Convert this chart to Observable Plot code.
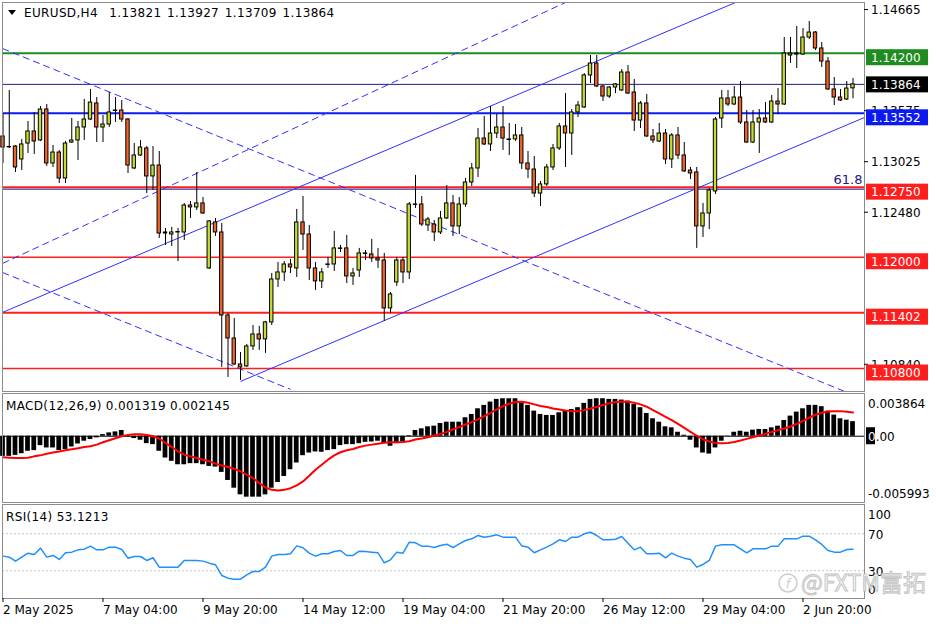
<!DOCTYPE html>
<html><head><meta charset="utf-8">
<script src="https://cdn.jsdelivr.net/npm/d3@7"></script>
<script src="https://cdn.jsdelivr.net/npm/@observablehq/plot@0.6"></script>
<style>
body{margin:0;background:#fff;}
#chart{position:relative;width:936px;height:624px;overflow:hidden;background:#fff;font-family:"DejaVu Sans",sans-serif;}
#chart svg{position:absolute;left:0;overflow:visible;}
</style></head><body><div id="chart"></div>
<script>
// ---------- DATA ----------
const symbol = "EURUSD,H4";
const opens = [1.13302,1.13189,1.13194,1.13054,1.13226,1.13356,1.13259,1.13593,1.13011,1.13129,
1.12849,1.13237,1.13259,1.13399,1.13485,1.13658,1.13399,1.13431,1.13577,1.13582,
1.13485,1.12957,1.13097,1.13173,1.12871,1.12989,1.12267,1.12245,1.12267,1.12267,
1.12558,1.12537,1.12580,1.11879,1.12375,1.12267,1.11372,1.11124,1.10844,1.10823,
1.11038,1.11167,1.11114,1.11297,1.11760,1.11836,1.11922,1.11879,1.12375,1.12245,
1.11879,1.11739,1.11917,1.11922,1.12095,1.12095,1.11793,1.11857,1.12035,1.12030,
1.11987,1.11965,1.11448,1.11728,1.11965,1.11836,1.12569,1.12569,1.12343,1.12353,
1.12267,1.12418,1.12580,1.12332,1.12569,1.12806,1.12957,1.13280,1.13216,1.13334,
1.13399,1.13270,1.13270,1.13313,1.13011,1.12946,1.12687,1.12785,1.12968,1.13173,
1.13410,1.13334,1.13561,1.13615,1.13960,1.14089,1.13841,1.13733,1.13830,1.13798,
1.13992,1.13776,1.13474,1.13658,1.13302,1.13248,1.13334,1.13054,1.13313,1.13097,
1.12935,1.12914,1.12332,1.12472,1.12709,1.13496,1.13712,1.13647,1.13722,1.13453,
1.13237,1.13453,1.13496,1.13453,1.13679,1.13647,1.14197,1.14197,1.14186,1.14369,
1.14423,1.14251,1.14110,1.13809,1.13722,1.13701,1.13821];
const highs = [1.13550,1.13798,1.13205,1.13270,1.13464,1.13561,1.13625,1.13647,1.13205,1.13151,
1.13248,1.13496,1.13464,1.13701,1.13809,1.13722,1.13528,1.13776,1.13722,1.13690,
1.13496,1.13226,1.13259,1.13194,1.13194,1.13140,1.12310,1.12321,1.12310,1.12580,
1.12601,1.12914,1.12644,1.12396,1.12418,1.12364,1.11394,1.11340,1.10973,1.11060,
1.11264,1.11254,1.11308,1.11825,1.11944,1.11954,1.11976,1.12515,1.12655,1.12343,
1.11944,1.11879,1.11998,1.12278,1.12127,1.12235,1.11879,1.12095,1.12073,1.12192,
1.12095,1.12041,1.11620,1.11998,1.11998,1.12590,1.12882,1.12655,1.12429,1.12396,
1.12493,1.12774,1.12666,1.12644,1.12849,1.13011,1.13388,1.13518,1.13625,1.13539,
1.13625,1.13442,1.13431,1.13399,1.13140,1.13086,1.12817,1.13000,1.13216,1.13442,
1.13765,1.13593,1.13679,1.13981,1.14175,1.14175,1.13852,1.13841,1.13873,1.14024,
1.14067,1.13916,1.13679,1.13755,1.13377,1.13442,1.13377,1.13334,1.13399,1.13237,
1.12968,1.12968,1.12580,1.12741,1.13507,1.13798,1.13798,1.13841,1.13895,1.13582,
1.13582,1.13593,1.13668,1.13744,1.13819,1.14369,1.14369,1.14488,1.14466,1.14542,
1.14434,1.14315,1.14154,1.13938,1.13809,1.13895,1.13927];
const lows = [1.13011,1.13173,1.12914,1.12935,1.13119,1.13108,1.13248,1.12979,1.12968,1.12795,
1.12795,1.13226,1.13043,1.13259,1.13474,1.13237,1.13237,1.13399,1.13453,1.13453,
1.12903,1.12946,1.13086,1.12687,1.12720,1.12202,1.12127,1.12116,1.11954,1.12181,
1.12418,1.12504,1.12461,1.11868,1.12224,1.10812,1.10704,1.10833,1.10672,1.10812,
1.10995,1.10995,1.10963,1.11264,1.11674,1.11739,1.11825,1.11782,1.12073,1.11750,
1.11642,1.11663,1.11879,1.11847,1.12051,1.11717,1.11696,1.11782,1.11965,1.11944,
1.11879,1.11308,1.11394,1.11685,1.11717,1.11760,1.12526,1.12332,1.12278,1.12170,
1.12245,1.12407,1.12224,1.12245,1.12537,1.12763,1.12860,1.13205,1.13140,1.13280,
1.13151,1.13097,1.13248,1.12946,1.12849,1.12644,1.12547,1.12763,1.12935,1.13151,
1.12968,1.13097,1.13507,1.13604,1.13873,1.13830,1.13679,1.13712,1.13765,1.13787,
1.13755,1.13356,1.13388,1.13291,1.13226,1.13237,1.13000,1.12957,1.13054,1.12914,
1.12838,1.12095,1.12213,1.12299,1.12677,1.13388,1.13625,1.13636,1.13431,1.13226,
1.13226,1.13119,1.13442,1.13442,1.13539,1.13636,1.14089,1.14035,1.14175,1.14348,
1.14229,1.14046,1.13798,1.13636,1.13679,1.13690,1.13709];
const closes = [1.13183,1.13185,1.12968,1.13216,1.13356,1.13248,1.13593,1.13011,1.13129,1.12849,
1.13226,1.13259,1.13399,1.13485,1.13668,1.13399,1.13431,1.13561,1.13582,1.13485,
1.12989,1.13097,1.13183,1.12871,1.12989,1.12256,1.12256,1.12267,1.12272,1.12558,
1.12537,1.12580,1.12472,1.12386,1.12267,1.11372,1.11124,1.10844,1.10812,1.11038,
1.11167,1.11114,1.11297,1.11760,1.11836,1.11922,1.11890,1.12375,1.12245,1.11879,
1.11739,1.11836,1.11922,1.12095,1.12090,1.11793,1.11825,1.12041,1.12041,1.11987,
1.11965,1.11448,1.11599,1.11965,1.11836,1.12569,1.12564,1.12353,1.12407,1.12267,
1.12418,1.12580,1.12332,1.12569,1.12806,1.12957,1.13280,1.13216,1.13334,1.13399,
1.13280,1.13264,1.13313,1.13011,1.12946,1.12687,1.12785,1.12968,1.13173,1.13410,
1.13334,1.13561,1.13636,1.13960,1.14089,1.13841,1.13733,1.13830,1.13863,1.13992,
1.13765,1.13474,1.13658,1.13302,1.13259,1.13334,1.13054,1.13313,1.13097,1.12925,
1.12903,1.12332,1.12472,1.12720,1.13485,1.13712,1.13647,1.13722,1.13453,1.13237,
1.13453,1.13496,1.13453,1.13679,1.13647,1.14197,1.14175,1.14186,1.14369,1.14423,
1.14251,1.14110,1.13809,1.13722,1.13690,1.13819,1.13864];

const macdMain = [-0.00182,-0.00182,-0.00173,-0.00158,-0.00136,-0.00130,-0.00085,-0.00106,-0.00106,-0.00130,
-0.00121,-0.00097,-0.00070,-0.00045,-0.00030,-0.00015,0.00015,0.00030,0.00039,0.00052,
-0.00006,-0.00021,-0.00036,-0.00067,-0.00076,-0.00136,-0.00197,-0.00227,-0.00258,-0.00258,
-0.00248,-0.00248,-0.00258,-0.00273,-0.00279,-0.00327,-0.00400,-0.00470,-0.00530,-0.00551,
-0.00551,-0.00551,-0.00530,-0.00470,-0.00418,-0.00364,-0.00303,-0.00242,-0.00176,-0.00152,
-0.00142,-0.00145,-0.00130,-0.00121,-0.00085,-0.00076,-0.00076,-0.00067,-0.00055,-0.00052,
-0.00045,-0.00067,-0.00091,-0.00067,-0.00052,0.00006,0.00052,0.00067,0.00085,0.00091,
0.00115,0.00127,0.00127,0.00127,0.00167,0.00197,0.00248,0.00279,0.00309,0.00333,
0.00339,0.00339,0.00339,0.00309,0.00279,0.00227,0.00197,0.00188,0.00188,0.00212,
0.00227,0.00242,0.00258,0.00297,0.00333,0.00339,0.00339,0.00333,0.00333,0.00327,
0.00318,0.00288,0.00258,0.00206,0.00158,0.00127,0.00085,0.00076,0.00036,0.00009,
-0.00036,-0.00106,-0.00152,-0.00161,-0.00106,-0.00045,0.00003,0.00036,0.00045,0.00036,
0.00055,0.00061,0.00061,0.00076,0.00091,0.00142,0.00182,0.00218,0.00248,0.00279,
0.00279,0.00267,0.00227,0.00191,0.00158,0.00145,0.001319];
const macdSignal = [-0.00191,-0.00194,-0.00197,-0.00197,-0.00194,-0.00182,-0.00173,-0.00158,-0.00148,-0.00139,
-0.00127,-0.00118,-0.00109,-0.00097,-0.00091,-0.00076,-0.00055,-0.00036,-0.00018,0.00000,
0.00012,0.00018,0.00018,0.00012,0.00000,-0.00021,-0.00061,-0.00097,-0.00136,-0.00167,
-0.00182,-0.00197,-0.00212,-0.00227,-0.00248,-0.00264,-0.00279,-0.00294,-0.00318,-0.00348,
-0.00379,-0.00424,-0.00464,-0.00485,-0.00491,-0.00485,-0.00470,-0.00445,-0.00409,-0.00358,
-0.00303,-0.00258,-0.00212,-0.00173,-0.00145,-0.00127,-0.00115,-0.00097,-0.00085,-0.00076,
-0.00067,-0.00058,-0.00055,-0.00055,-0.00052,-0.00045,-0.00030,-0.00021,-0.00009,0.00006,
0.00021,0.00039,0.00061,0.00082,0.00106,0.00127,0.00152,0.00182,0.00212,0.00242,
0.00273,0.00294,0.00309,0.00312,0.00303,0.00288,0.00273,0.00264,0.00251,0.00242,
0.00233,0.00227,0.00227,0.00236,0.00251,0.00267,0.00282,0.00297,0.00309,0.00312,
0.00312,0.00303,0.00288,0.00267,0.00236,0.00206,0.00176,0.00145,0.00112,0.00076,
0.00039,0.00003,-0.00027,-0.00048,-0.00061,-0.00064,-0.00061,-0.00052,-0.00039,-0.00024,
-0.00009,0.00006,0.00021,0.00039,0.00055,0.00070,0.00088,0.00112,0.00139,0.00167,
0.00194,0.00212,0.00224,0.00227,0.00227,0.00221,0.002145];
const rsi = [45.8,44.7,40.4,44.7,49.0,47.6,54.4,44.7,46.5,42.2,
49.4,50.1,52.6,53.3,56.6,52.6,52.6,55.5,55.5,53.0,
43.6,45.4,45.4,41.1,44.0,33.9,33.9,33.9,33.9,41.1,
41.1,41.1,40.4,38.2,36.4,24.9,22.0,20.9,20.9,25.6,
29.2,29.2,33.9,45.8,47.6,47.6,48.3,56.9,54.8,49.0,
45.8,48.3,48.3,50.8,51.9,46.5,46.5,51.2,50.8,50.1,
49.4,38.6,41.8,50.1,49.0,60.9,60.2,56.6,56.6,55.1,
57.3,58.7,55.1,59.1,62.7,64.5,68.1,66.3,67.4,68.8,
66.3,66.3,66.3,56.9,55.5,49.4,52.6,55.5,59.1,63.4,
61.6,66.3,66.3,69.9,71.7,68.1,63.4,63.4,64.1,67.0,
59.8,52.6,55.5,48.3,48.3,49.0,44.0,49.0,45.8,43.6,
42.2,33.9,36.8,41.1,56.6,58.0,58.0,58.0,53.7,49.4,
53.7,53.7,53.7,56.6,56.6,64.5,64.5,64.5,67.4,67.4,
63.4,58.4,51.9,50.1,50.1,52.9,53.1213];

// horizontal levels and their scale labels
const levelPrices = [1.14200, 1.13864, 1.13552, 1.12750, 1.12000, 1.11402, 1.10800];
const fibLevel = 1.12750, fibLabel = "61.8";
// price-axis tick labels (those not fully hidden by level boxes)
const priceTicks = [1.14665, 1.13575, 1.13025, 1.12480, 1.10840];
// trend lines: [bar index, price] endpoints
const channelSolid = [
  {x1: -0.08, y1: 1.11405, x2: 137.84, y2: 1.15335},
  {x1: 38.0, y1: 1.10661, x2: 137.84, y2: 1.13507}
];
const channelDashed = [
  {x1: -0.08, y1: 1.11933, x2: 137.84, y2: 1.16241},
  {x1: -0.08, y1: 1.14251, x2: 137.84, y2: 1.10466},
  {x1: -0.08, y1: 1.11836, x2: 46.0, y2: 1.10575}
];
// time axis labels
const timeTickIndex = [0, 16, 32, 48, 64, 80, 96, 112, 128];
const timeTickLabels = ["2 May 2025", "7 May 04:00", "9 May 20:00", "14 May 12:00", "19 May 04:00",
  "21 May 20:00", "26 May 12:00", "29 May 04:00", "2 Jun 20:00"];
const macdLabel = "MACD(12,26,9) 0.001319 0.002145";
const macdScale = {max: 0.003864, min: -0.005993};
const rsiLabel = "RSI(14) 53.1213";
const rsiLevels = [30, 70];

// ---------- STYLE ----------
const BULL = "#c8dc30", BEAR = "#f0652a";
const levelStyle = [
  {stroke: "#1e8c1e", width: 2, box: "#1e8c1e"},
  {stroke: "#1a1a90", width: 1, box: "#000000"},
  {stroke: "#0a1af0", width: 2, box: "#0a1af0"},
  {stroke: "#ff1e1e", width: 2, box: "#ff1e1e"},
  {stroke: "#ff1e1e", width: 1.7, box: "#ff1e1e"},
  {stroke: "#ff1e1e", width: 2, box: "#ff1e1e"},
  {stroke: "#ff1e1e", width: 1.7, box: "#ff1e1e"}
];
const FONT = "DejaVu Sans";
const xDomain = [-0.08, 137.84];
const common = {width: 936, marginLeft: 2, marginRight: 72, x: {domain: xDomain, axis: null},
  style: {background: "transparent", fontFamily: FONT, fontSize: "12px", overflow: "visible"}};

const idx = d3.range(closes.length);
const candles = idx.map(i => {
  const o = opens[i], c = closes[i];
  let top = Math.max(o, c), bot = Math.min(o, c);
  if (top - bot < 0.00004) { const m = (top + bot) / 2; top = m + 0.00002; bot = m - 0.00002; }
  return {i, o, h: highs[i], l: lows[i], c, top, bot, up: c >= o};
});
const W2 = 0.27;
function overlay(svg) {
  return d3.select(svg).append("g").attr("font-family", FONT).attr("font-size", 12)
    .attr("text-anchor", "start").attr("fill", "#000");
}

// ---------- MAIN PANEL ----------
const main = Plot.plot({
  ...common, height: 392, marginTop: 2, marginBottom: 1,
  y: {domain: [1.105522, 1.147467], axis: null},
  marks: [
    ...levelPrices.map((p, k) => Plot.ruleY([p], {stroke: levelStyle[k].stroke, strokeWidth: levelStyle[k].width, dy: p === fibLevel ? -0.5 : 0})),
    Plot.ruleY([fibLevel], {stroke: "#1a1a90", strokeWidth: 1, dy: 1.5}),
    Plot.link(channelSolid, {x1: "x1", y1: "y1", x2: "x2", y2: "y2", stroke: "#3030ff", strokeWidth: 1, clip: true}),
    Plot.link(channelDashed, {x1: "x1", y1: "y1", x2: "x2", y2: "y2", stroke: "#3030ff", strokeWidth: 1, strokeDasharray: "7,4", clip: true}),
    Plot.ruleX(candles, {x: "i", y1: "l", y2: "h", stroke: "#000", strokeWidth: 1}),
    Plot.rect(candles.filter(d => d.up), {x1: d => d.i - W2, x2: d => d.i + W2, y1: "bot", y2: "top", fill: BULL, stroke: "#000", strokeWidth: 1}),
    Plot.rect(candles.filter(d => !d.up), {x1: d => d.i - W2, x2: d => d.i + W2, y1: "bot", y2: "top", fill: BEAR, stroke: "#000", strokeWidth: 1}),
    Plot.text([fibLabel], {frameAnchor: "right", y: [fibLevel], text: d => d, dx: -2, dy: -8, fill: "#1a1a80", fontSize: 13, textAnchor: "end"}),
    Plot.frame({stroke: "#8c8c8c"})
  ]
});
main.style.top = "0px";
document.getElementById("chart").appendChild(main);
{
  const ys = main.scale("y");
  const g = overlay(main);
  priceTicks.forEach(v => {
    const y = ys.apply(v);
    g.append("line").attr("x1", 864).attr("x2", 868).attr("y1", y).attr("y2", y).attr("stroke", "#000");
    g.append("text").attr("x", 871).attr("y", y).attr("dy", "0.36em").text(v.toFixed(5));
  });
  levelPrices.forEach((v, k) => {
    const y = ys.apply(v);
    const top = k === 1 ? y - 7.5 : y - 3.5;
    g.append("rect").attr("x", 866).attr("y", top).attr("width", 62).attr("height", 16).attr("fill", levelStyle[k].box);
    g.append("text").attr("x", 871).attr("y", top + 8).attr("dy", "0.36em").attr("fill", "#fff").text(v.toFixed(5));
  });
  // header
  g.append("path").attr("d", "M8,10 L16,10 L12,15 Z").attr("fill", "#000");
  g.append("text").attr("x", 24).attr("y", 13).attr("dy", "0.36em")
    .attr("letter-spacing", 0.35).attr("word-spacing", 1.5)
    .style("white-space", "pre").text(symbol + "  " + [opens.at(-1), highs.at(-1), lows.at(-1), closes.at(-1)].map(v => v.toFixed(5)).join(" "));
}

// ---------- MACD PANEL ----------
const macd = Plot.plot({
  ...common, height: 111, marginTop: 1, marginBottom: 1,
  y: {domain: [macdScale.min, macdScale.max], axis: null},
  marks: [
    Plot.rect(idx, {x1: i => i - 0.38, x2: i => i + 0.38, y1: 0, y2: i => macdMain[i], fill: "#000"}),
    Plot.ruleY([0], {stroke: "#000"}),
    Plot.line(idx, {x: i => i, y: i => macdSignal[i], stroke: "#ff0000", strokeWidth: 2}),
    Plot.frame({stroke: "#8c8c8c"})
  ]
});
macd.style.top = "392px";
document.getElementById("chart").appendChild(macd);
{
  const ys = macd.scale("y");
  const g = overlay(macd);
  g.append("text").attr("x", 6).attr("y", 13.5).attr("dy", "0.36em").attr("letter-spacing", 0.35).text(macdLabel);
  g.append("text").attr("x", 868).attr("y", ys.apply(macdScale.max) + 11).attr("dy", "0.36em").text(macdScale.max.toFixed(6));
  g.append("rect").attr("x", 866).attr("y", ys.apply(0) - 8.5).attr("width", 9).attr("height", 17).attr("fill", "#000");
  const z = g.append("text").attr("x", 868).attr("y", ys.apply(0) + 0.5).attr("dy", "0.36em");
  z.append("tspan").attr("fill", "#fff").text("0");
  z.append("tspan").text(".00");
  g.append("text").attr("x", 868).attr("y", ys.apply(macdScale.min) - 8.5).attr("dy", "0.36em").text(macdScale.min.toFixed(6));
}

// ---------- RSI PANEL ----------
const rsiPlot = Plot.plot({
  ...common, height: 121, marginTop: 1, marginBottom: 26,
  y: {domain: [0, 101.6], axis: null},
  marks: [
    Plot.ruleY(rsiLevels, {stroke: "#c4c4c4", strokeDasharray: "2,2"}),
    Plot.line(idx, {x: i => i, y: i => rsi[i], stroke: "#1e8fff", strokeWidth: 1.5}),
    Plot.frame({stroke: "#8c8c8c"}),
    Plot.axisX(timeTickIndex, {anchor: "bottom", tickSize: 4, tickPadding: 3, fontSize: 12,
      textAnchor: "start", tickFormat: i => timeTickLabels[timeTickIndex.indexOf(i)], label: null})
  ]
});
rsiPlot.style.top = "503px";
document.getElementById("chart").appendChild(rsiPlot);
{
  const ys = rsiPlot.scale("y");
  const g = overlay(rsiPlot);
  g.append("text").attr("x", 6).attr("y", 13.5).attr("dy", "0.36em").attr("letter-spacing", 0.35).text(rsiLabel);
  g.append("text").attr("x", 868).attr("y", ys.apply(100) + 9.5).attr("dy", "0.36em").text("100");
  rsiLevels.forEach(v => g.append("text").attr("x", 868).attr("y", ys.apply(v) + 1).attr("dy", "0.36em").text(String(v)));
  g.append("text").attr("x", 868).attr("y", ys.apply(0) - 8).attr("dy", "0.36em").text("0");
  // watermark
  const wm = overlay(rsiPlot).attr("opacity", 0.9);
  wm.append("circle").attr("cx", 788).attr("cy", 80).attr("r", 9).attr("fill", "none").attr("stroke", "#c8c8c8").attr("stroke-width", 1.5);
  wm.append("text").attr("x", 788).attr("y", 80).attr("dy", "0.36em").attr("text-anchor", "middle")
    .attr("font-size", 13).attr("font-style", "italic").attr("fill", "#c8c8c8").text("f");
  wm.append("text").attr("x", 801).attr("y", 80).attr("dy", "0.36em").attr("font-family", "Noto Sans CJK SC")
    .attr("font-size", 23).attr("fill", "#fff").attr("stroke", "#bdbdbd").attr("stroke-width", 1).text("@FXTM富拓");
}
</script></body></html>
